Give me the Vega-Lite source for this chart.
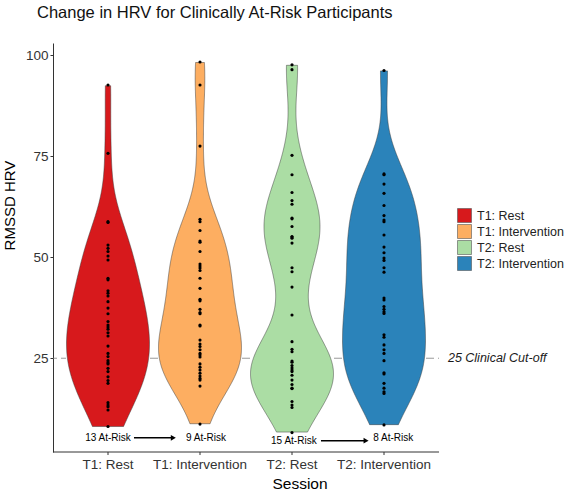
{
  "$schema": "https://vega.github.io/schema/vega-lite/v6.json",
  "padding": {"left": 2, "top": 4, "right": 0, "bottom": 0},
  "title": {"text": "Change in HRV for Clinically At-Risk Participants", "anchor": "start", "frame": "group", "dx": -25, "fontSize": 16.5, "fontWeight": "normal", "color": "#111", "offset": 22},
  "data": {"values": [
    {"session": "T1: Rest", "ann": "13 At-Risk"},
    {"session": "T1: Intervention", "ann": "9 At-Risk"},
    {"session": "T2: Rest", "ann": "15 At-Risk"},
    {"session": "T2: Intervention", "ann": "8 At-Risk"},
    {"session": "T1: Rest", "hrv": 92.6}, {"session": "T1: Rest", "hrv": 75.7}, {"session": "T1: Rest", "hrv": 58.8}, {"session": "T1: Rest", "hrv": 58.6},
    {"session": "T1: Rest", "hrv": 53.0}, {"session": "T1: Rest", "hrv": 52.2}, {"session": "T1: Rest", "hrv": 51.4}, {"session": "T1: Rest", "hrv": 50.3},
    {"session": "T1: Rest", "hrv": 49.3}, {"session": "T1: Rest", "hrv": 44.8}, {"session": "T1: Rest", "hrv": 44.4}, {"session": "T1: Rest", "hrv": 41.7},
    {"session": "T1: Rest", "hrv": 41.1}, {"session": "T1: Rest", "hrv": 40.4}, {"session": "T1: Rest", "hrv": 39.0}, {"session": "T1: Rest", "hrv": 37.4},
    {"session": "T1: Rest", "hrv": 36.0}, {"session": "T1: Rest", "hrv": 34.1}, {"session": "T1: Rest", "hrv": 33.2}, {"session": "T1: Rest", "hrv": 32.7},
    {"session": "T1: Rest", "hrv": 32.2}, {"session": "T1: Rest", "hrv": 31.3}, {"session": "T1: Rest", "hrv": 30.5}, {"session": "T1: Rest", "hrv": 28.0},
    {"session": "T1: Rest", "hrv": 26.2}, {"session": "T1: Rest", "hrv": 25.4}, {"session": "T1: Rest", "hrv": 24.4}, {"session": "T1: Rest", "hrv": 23.9},
    {"session": "T1: Rest", "hrv": 23.6}, {"session": "T1: Rest", "hrv": 22.5}, {"session": "T1: Rest", "hrv": 21.7}, {"session": "T1: Rest", "hrv": 20.4},
    {"session": "T1: Rest", "hrv": 19.5}, {"session": "T1: Rest", "hrv": 18.8}, {"session": "T1: Rest", "hrv": 14.0}, {"session": "T1: Rest", "hrv": 13.4},
    {"session": "T1: Rest", "hrv": 13.0}, {"session": "T1: Rest", "hrv": 12.2}, {"session": "T1: Rest", "hrv": 8.1},
    {"session": "T1: Intervention", "hrv": 98.3}, {"session": "T1: Intervention", "hrv": 92.6}, {"session": "T1: Intervention", "hrv": 77.5}, {"session": "T1: Intervention", "hrv": 59.4},
    {"session": "T1: Intervention", "hrv": 58.8}, {"session": "T1: Intervention", "hrv": 56.6}, {"session": "T1: Intervention", "hrv": 54.0}, {"session": "T1: Intervention", "hrv": 53.7},
    {"session": "T1: Intervention", "hrv": 51.4}, {"session": "T1: Intervention", "hrv": 48.3}, {"session": "T1: Intervention", "hrv": 47.8}, {"session": "T1: Intervention", "hrv": 47.3},
    {"session": "T1: Intervention", "hrv": 46.7}, {"session": "T1: Intervention", "hrv": 44.8}, {"session": "T1: Intervention", "hrv": 42.3}, {"session": "T1: Intervention", "hrv": 39.6},
    {"session": "T1: Intervention", "hrv": 39.2}, {"session": "T1: Intervention", "hrv": 37.1}, {"session": "T1: Intervention", "hrv": 36.3}, {"session": "T1: Intervention", "hrv": 36.0},
    {"session": "T1: Intervention", "hrv": 33.2}, {"session": "T1: Intervention", "hrv": 33.0}, {"session": "T1: Intervention", "hrv": 29.5}, {"session": "T1: Intervention", "hrv": 28.5},
    {"session": "T1: Intervention", "hrv": 27.9}, {"session": "T1: Intervention", "hrv": 27.1}, {"session": "T1: Intervention", "hrv": 26.2}, {"session": "T1: Intervention", "hrv": 25.8},
    {"session": "T1: Intervention", "hrv": 25.3}, {"session": "T1: Intervention", "hrv": 23.6}, {"session": "T1: Intervention", "hrv": 22.8}, {"session": "T1: Intervention", "hrv": 22.1},
    {"session": "T1: Intervention", "hrv": 21.3}, {"session": "T1: Intervention", "hrv": 20.6}, {"session": "T1: Intervention", "hrv": 20.0}, {"session": "T1: Intervention", "hrv": 19.6},
    {"session": "T1: Intervention", "hrv": 18.1}, {"session": "T1: Intervention", "hrv": 8.7},
    {"session": "T2: Rest", "hrv": 97.6}, {"session": "T2: Rest", "hrv": 96.4}, {"session": "T2: Rest", "hrv": 75.2}, {"session": "T2: Rest", "hrv": 70.4},
    {"session": "T2: Rest", "hrv": 66.0}, {"session": "T2: Rest", "hrv": 64.0}, {"session": "T2: Rest", "hrv": 63.1}, {"session": "T2: Rest", "hrv": 59.7},
    {"session": "T2: Rest", "hrv": 59.5}, {"session": "T2: Rest", "hrv": 57.6}, {"session": "T2: Rest", "hrv": 55.1}, {"session": "T2: Rest", "hrv": 55.0},
    {"session": "T2: Rest", "hrv": 54.7}, {"session": "T2: Rest", "hrv": 53.5}, {"session": "T2: Rest", "hrv": 47.4}, {"session": "T2: Rest", "hrv": 46.4},
    {"session": "T2: Rest", "hrv": 42.6}, {"session": "T2: Rest", "hrv": 35.7}, {"session": "T2: Rest", "hrv": 29.1}, {"session": "T2: Rest", "hrv": 27.2},
    {"session": "T2: Rest", "hrv": 26.6}, {"session": "T2: Rest", "hrv": 24.3}, {"session": "T2: Rest", "hrv": 24.0}, {"session": "T2: Rest", "hrv": 23.2},
    {"session": "T2: Rest", "hrv": 22.6}, {"session": "T2: Rest", "hrv": 22.1}, {"session": "T2: Rest", "hrv": 21.7}, {"session": "T2: Rest", "hrv": 20.8},
    {"session": "T2: Rest", "hrv": 19.6}, {"session": "T2: Rest", "hrv": 18.5}, {"session": "T2: Rest", "hrv": 17.6}, {"session": "T2: Rest", "hrv": 17.5},
    {"session": "T2: Rest", "hrv": 14.3}, {"session": "T2: Rest", "hrv": 13.4}, {"session": "T2: Rest", "hrv": 12.8}, {"session": "T2: Rest", "hrv": 6.6},
    {"session": "T2: Intervention", "hrv": 96.2}, {"session": "T2: Intervention", "hrv": 70.6}, {"session": "T2: Intervention", "hrv": 70.4}, {"session": "T2: Intervention", "hrv": 68.1},
    {"session": "T2: Intervention", "hrv": 65.8}, {"session": "T2: Intervention", "hrv": 62.8}, {"session": "T2: Intervention", "hrv": 60.3}, {"session": "T2: Intervention", "hrv": 59.2},
    {"session": "T2: Intervention", "hrv": 58.8}, {"session": "T2: Intervention", "hrv": 55.5}, {"session": "T2: Intervention", "hrv": 52.5}, {"session": "T2: Intervention", "hrv": 51.1},
    {"session": "T2: Intervention", "hrv": 49.8}, {"session": "T2: Intervention", "hrv": 49.2}, {"session": "T2: Intervention", "hrv": 47.4}, {"session": "T2: Intervention", "hrv": 46.3},
    {"session": "T2: Intervention", "hrv": 39.9}, {"session": "T2: Intervention", "hrv": 39.4}, {"session": "T2: Intervention", "hrv": 37.8}, {"session": "T2: Intervention", "hrv": 37.1},
    {"session": "T2: Intervention", "hrv": 36.5}, {"session": "T2: Intervention", "hrv": 36.1}, {"session": "T2: Intervention", "hrv": 30.8}, {"session": "T2: Intervention", "hrv": 30.2},
    {"session": "T2: Intervention", "hrv": 28.3}, {"session": "T2: Intervention", "hrv": 27.1}, {"session": "T2: Intervention", "hrv": 26.2}, {"session": "T2: Intervention", "hrv": 24.4},
    {"session": "T2: Intervention", "hrv": 21.4}, {"session": "T2: Intervention", "hrv": 21.1}, {"session": "T2: Intervention", "hrv": 18.8}, {"session": "T2: Intervention", "hrv": 17.6},
    {"session": "T2: Intervention", "hrv": 16.7}, {"session": "T2: Intervention", "hrv": 16.3}, {"session": "T2: Intervention", "hrv": 8.5}
  ]},
  "facet": {"column": {"field": "session", "type": "nominal", "sort": ["T1: Rest", "T1: Intervention", "T2: Rest", "T2: Intervention"], "title": "Session",
    "header": {"labelOrient": "bottom", "titleOrient": "bottom", "labelFontSize": 13.5, "labelColor": "#333", "labelPadding": 6, "titleFontSize": 15.5, "titleFontWeight": "normal", "titleColor": "#000", "titlePadding": -5}}},
  "spacing": 0,
  "bounds": "flush",
  "spec": {
    "width": 92,
    "height": 409,
    "layer": [
      {"transform": [{"filter": "isValid(datum.ann)"}],
       "mark": {"type": "rule", "strokeDash": [4, 4], "color": "#7f7f7f", "strokeWidth": 0.8},
       "encoding": {"x": {"datum": -1, "type": "quantitative", "scale": {"domain": [-1, 1]}, "axis": null}, "x2": {"datum": 1},
                    "y": {"datum": 25, "type": "quantitative", "scale": {"domain": [1.8, 103], "nice": false, "zero": false}}}},
      {"transform": [{"filter": "isValid(datum.ann) && datum.session == 'T1: Rest'"}],
       "mark": {"type": "rule", "strokeDash": [4, 4], "color": "#7f7f7f", "strokeWidth": 0.8},
       "encoding": {"x": {"datum": -1.196, "type": "quantitative", "scale": {"domain": [-1, 1]}, "axis": null}, "x2": {"datum": -1},
                    "y": {"datum": 25, "type": "quantitative"}}},
      {"transform": [{"filter": "isValid(datum.ann) && datum.session == 'T2: Intervention'"}],
       "mark": {"type": "rule", "strokeDash": [4, 4], "color": "#7f7f7f", "strokeWidth": 0.8},
       "encoding": {"x": {"datum": 1, "type": "quantitative", "scale": {"domain": [-1, 1]}, "axis": null}, "x2": {"datum": 1.196},
                    "y": {"datum": 25, "type": "quantitative"}}},
      {"transform": [{"filter": "isValid(datum.ann)"}],
       "mark": {"type": "rule", "color": "#333", "strokeWidth": 1},
       "encoding": {"x": {"datum": -1, "type": "quantitative", "scale": {"domain": [-1, 1]}, "axis": null}, "x2": {"datum": 1},
                    "y": {"datum": 1.8, "type": "quantitative"}}},
      {"transform": [{"filter": "isValid(datum.ann)"}],
       "mark": {"type": "rule", "color": "#333", "strokeWidth": 1},
       "encoding": {"x": {"datum": 0, "type": "quantitative", "scale": {"domain": [-1, 1]}, "axis": null},
                    "y": {"datum": 1.8, "type": "quantitative"}, "y2": {"datum": 1.05}}},
      {"transform": [{"filter": "isValid(datum.ann) && datum.session == 'T1: Rest'"}],
       "mark": {"type": "rule", "color": "#333", "strokeWidth": 1},
       "encoding": {"x": {"datum": -1.196, "type": "quantitative", "scale": {"domain": [-1, 1]}, "axis": null}, "x2": {"datum": -1},
                    "y": {"datum": 1.8, "type": "quantitative"}}},
      {"transform": [{"filter": "isValid(datum.ann) && datum.session == 'T2: Intervention'"}],
       "mark": {"type": "rule", "color": "#333", "strokeWidth": 1},
       "encoding": {"x": {"datum": 1, "type": "quantitative", "scale": {"domain": [-1, 1]}, "axis": null}, "x2": {"datum": 1.196},
                    "y": {"datum": 1.8, "type": "quantitative"}}},
      {"transform": [
         {"filter": "isValid(datum.hrv)"},
         {"joinaggregate": [{"op": "min", "field": "hrv", "as": "lo"}, {"op": "max", "field": "hrv", "as": "hi"}], "groupby": ["session"]},
         {"density": "hrv", "groupby": ["session", "lo", "hi"], "extent": [6.5, 98.4], "steps": 400, "bandwidth": 8},
         {"filter": "datum.value >= datum.lo && datum.value <= datum.hi"}
       ],
       "mark": {"type": "area", "orient": "horizontal", "stroke": "#3a3a3a", "strokeWidth": 0.5, "opacity": 1},
       "encoding": {
         "y": {"field": "value", "type": "quantitative", "title": "RMSSD HRV", "scale": {"domain": [1.8, 103], "nice": false, "zero": false}, "axis": {"values": [25, 50, 75, 100]}},
         "x": {"field": "density", "type": "quantitative", "stack": "center", "impute": null, "scale": {"padding": 4.5, "zero": false, "nice": false}, "axis": null},
         "color": {"field": "session", "type": "nominal",
                   "scale": {"domain": ["T1: Rest", "T1: Intervention", "T2: Rest", "T2: Intervention"], "range": ["#d7191c", "#fdae61", "#abdda4", "#2b83ba"]},
                   "legend": {"title": null, "orient": "none", "legendX": 395, "legendY": 165, "symbolType": "square", "symbolSize": 196, "symbolStrokeColor": "#555", "symbolStrokeWidth": 0.6, "symbolOpacity": 1, "labelFontSize": 12.5, "labelColor": "#222", "rowPadding": -2, "labelOffset": 5}}
       }},
      {"transform": [{"filter": "isValid(datum.hrv)"}],
       "mark": {"type": "circle", "size": 10, "color": "#000", "opacity": 1},
       "encoding": {
         "x": {"datum": 0, "type": "quantitative", "scale": {"domain": [-1, 1]}, "axis": null},
         "y": {"field": "hrv", "type": "quantitative", "title": "RMSSD HRV", "axis": {"values": [25, 50, 75, 100]}}
       }},
      {"transform": [{"filter": "datum.ann == '13 At-Risk'"}],
       "mark": {"type": "text", "fontSize": 10, "color": "#000", "align": "center", "baseline": "middle"},
       "encoding": {"x": {"datum": 0, "type": "quantitative", "scale": {"domain": [-1, 1]}, "axis": null}, "y": {"datum": 5.3, "type": "quantitative"}, "text": {"field": "ann"}}},
      {"transform": [{"filter": "datum.ann == '9 At-Risk'"}],
       "mark": {"type": "text", "fontSize": 10, "color": "#000", "align": "center", "baseline": "middle"},
       "encoding": {"x": {"datum": 0.13, "type": "quantitative", "scale": {"domain": [-1, 1]}, "axis": null}, "y": {"datum": 5.3, "type": "quantitative"}, "text": {"field": "ann"}}},
      {"transform": [{"filter": "datum.ann == '15 At-Risk'"}],
       "mark": {"type": "text", "fontSize": 10, "color": "#000", "align": "center", "baseline": "middle"},
       "encoding": {"x": {"datum": 0.04, "type": "quantitative", "scale": {"domain": [-1, 1]}, "axis": null}, "y": {"datum": 4.6, "type": "quantitative"}, "text": {"field": "ann"}}},
      {"transform": [{"filter": "datum.ann == '8 At-Risk'"}],
       "mark": {"type": "text", "fontSize": 10, "color": "#000", "align": "center", "baseline": "middle"},
       "encoding": {"x": {"datum": 0.2, "type": "quantitative", "scale": {"domain": [-1, 1]}, "axis": null}, "y": {"datum": 5.3, "type": "quantitative"}, "text": {"field": "ann"}}},
      {"transform": [{"filter": "datum.ann == '13 At-Risk'"}],
       "mark": {"type": "rule", "color": "#000", "strokeWidth": 1.5},
       "encoding": {"x": {"datum": 0.565, "type": "quantitative", "scale": {"domain": [-1, 1]}, "axis": null}, "x2": {"datum": 1.41}, "y": {"datum": 5.3, "type": "quantitative"}}},
      {"transform": [{"filter": "datum.ann == '13 At-Risk'"}],
       "mark": {"type": "point", "shape": "triangle-right", "size": 34, "filled": true, "color": "#000", "opacity": 1},
       "encoding": {"x": {"datum": 1.42, "type": "quantitative", "scale": {"domain": [-1, 1]}, "axis": null}, "y": {"datum": 5.3, "type": "quantitative"}}},
      {"transform": [{"filter": "datum.ann == '15 At-Risk'"}],
       "mark": {"type": "rule", "color": "#000", "strokeWidth": 1.5},
       "encoding": {"x": {"datum": 0.63, "type": "quantitative", "scale": {"domain": [-1, 1]}, "axis": null}, "x2": {"datum": 1.6}, "y": {"datum": 4.6, "type": "quantitative"}}},
      {"transform": [{"filter": "datum.ann == '15 At-Risk'"}],
       "mark": {"type": "point", "shape": "triangle-right", "size": 34, "filled": true, "color": "#000", "opacity": 1},
       "encoding": {"x": {"datum": 1.61, "type": "quantitative", "scale": {"domain": [-1, 1]}, "axis": null}, "y": {"datum": 4.6, "type": "quantitative"}}},
      {"transform": [{"filter": "datum.ann == '8 At-Risk'"}],
       "mark": {"type": "text", "text": "25 Clinical Cut-off", "fontSize": 12.5, "fontStyle": "italic", "color": "#1a1a1a", "align": "left", "baseline": "middle"},
       "encoding": {"x": {"datum": 1.39, "type": "quantitative", "scale": {"domain": [-1, 1]}, "axis": null}, "y": {"datum": 25, "type": "quantitative"}}}
    ],
    "resolve": {"scale": {"x": "independent"}}
  },
  "config": {
    "font": "Liberation Sans",
    "view": {"stroke": null},
    "axisY": {"offset": 9, "tickSize": 3, "tickColor": "#333", "domainColor": "#333", "labelFontSize": 13.5, "labelColor": "#333", "labelPadding": 2, "titleFontSize": 15, "titleFontWeight": "normal", "titleColor": "#000", "titlePadding": 8, "grid": false, "titleY": 162}
  }
}
